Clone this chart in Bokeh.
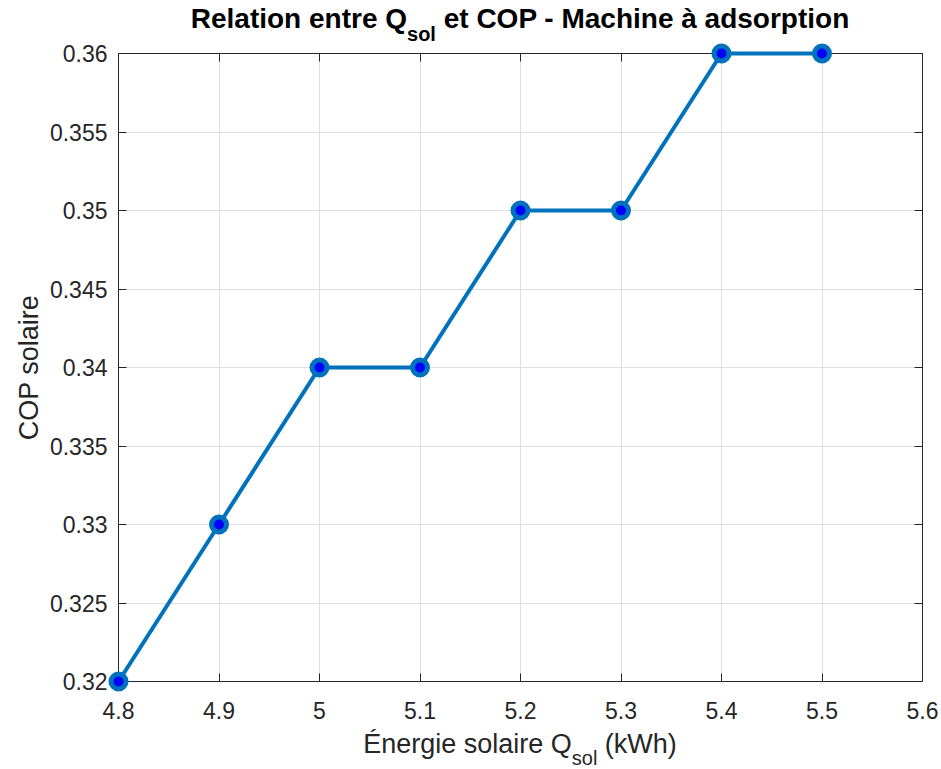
from bokeh.plotting import figure
from bokeh.layouts import column
from bokeh.models import (Div, LinearAxis, FixedTicker, CustomJSTickFormatter, Range1d)
from bokeh.embed import file_html
from bokeh.resources import INLINE

# Data
q_sol = [4.8, 4.9, 5.0, 5.1, 5.2, 5.3, 5.4, 5.5]
cop = [0.32, 0.33, 0.34, 0.34, 0.35, 0.35, 0.36, 0.36]
x_ticks = [4.8, 4.9, 5.0, 5.1, 5.2, 5.3, 5.4, 5.5, 5.6]
y_ticks = [0.32, 0.325, 0.33, 0.335, 0.34, 0.345, 0.35, 0.355, 0.36]

title_main, title_sub, title_rest = "Relation entre Q", "sol", " et COP - Machine à adsorption"
xlab_main, xlab_sub, xlab_rest = "Énergie solaire Q", "sol", " (kWh)"
ylab = "COP solaire"

FONT = "Liberation Sans"
DARK = "#262626"
TITLE_H, XLAB_H = 25, 35

p = figure(width=941, height=769 - TITLE_H - XLAB_H, output_backend="svg", toolbar_location=None,
           x_range=Range1d(4.8, 5.6), y_range=Range1d(0.32, 0.36),
           min_border_left=118, min_border_right=19, min_border_top=53 - TITLE_H,
           min_border_bottom=53, margin=(0, 0, 0, 0))
p.outline_line_color = None
p.background_fill_color = "white"
p.border_fill_color = None

fmt = CustomJSTickFormatter(code="return String(Number(tick.toFixed(4)));")
empty = CustomJSTickFormatter(code="return '';")

for ax, ticks in ((p.xaxis[0], x_ticks), (p.yaxis[0], y_ticks)):
    ax.ticker = FixedTicker(ticks=ticks)
    ax.formatter = fmt
    ax.major_label_text_font = FONT
    ax.major_label_text_font_size = "23px"
    ax.major_label_text_color = DARK
    ax.axis_line_color = DARK
    ax.major_tick_line_color = DARK
    ax.major_tick_in = 8
    ax.major_tick_out = 0
    ax.minor_tick_line_color = None
p.xaxis[0].major_label_standoff = 20
p.yaxis[0].major_label_standoff = 11

p.yaxis[0].axis_label = ylab
p.yaxis[0].axis_label_text_font = FONT
p.yaxis[0].axis_label_text_font_size = "27px"
p.yaxis[0].axis_label_text_font_style = "normal"
p.yaxis[0].axis_label_text_color = DARK
p.yaxis[0].axis_label_standoff = 3

for loc, ticks in (("above", x_ticks), ("right", y_ticks)):
    ax = LinearAxis(ticker=FixedTicker(ticks=ticks), formatter=empty)
    ax.axis_line_color = DARK
    ax.major_tick_line_color = DARK
    ax.major_tick_in = 8
    ax.major_tick_out = 0
    ax.minor_tick_line_color = None
    ax.major_label_standoff = 0
    p.add_layout(ax, loc)

p.xgrid.ticker = FixedTicker(ticks=x_ticks)
p.ygrid.ticker = FixedTicker(ticks=y_ticks)
p.grid.grid_line_color = "#DFDFDF"
p.grid.grid_line_width = 1

p.line(q_sol, cop, line_color="#0072BD", line_width=4, level="overlay")
p.scatter(q_sol, cop, size=15, fill_color="#0000FF", line_color="#0072BD", line_width=5,
          level="overlay")


def html_label(main, sub, rest, size, sub_size, weight, color, top, shift):
    return (
        f'<div style="margin-left:118px;width:804px;margin-top:{top}px;text-align:center;'
        f'white-space:nowrap;font-family:\'{FONT}\';font-size:{size}px;line-height:{size}px;'
        f'font-weight:{weight};color:{color};">'
        f'{main}<span style="position:relative;top:{shift}px;font-size:{sub_size}px;">{sub}</span>'
        f'{rest.replace(" ", "&nbsp;", 1)}</div>'
    )


title_div = Div(text=html_label(title_main, title_sub, title_rest, 28, 20, "bold", "#000000", 5, 13),
                width=941, height=TITLE_H, margin=(0, 0, 0, 0),
                styles={"overflow": "visible"})
xlab_div = Div(text=html_label(xlab_main, xlab_sub, xlab_rest, 27, 20, "normal", DARK, -3, 12),
               width=941, height=XLAB_H, margin=(0, 0, 0, 0),
               styles={"overflow": "visible"})

layout = column(title_div, p, xlab_div, spacing=0, margin=(0, 0, 0, 0))

open("out.html", "w").write(file_html(layout, INLINE))
